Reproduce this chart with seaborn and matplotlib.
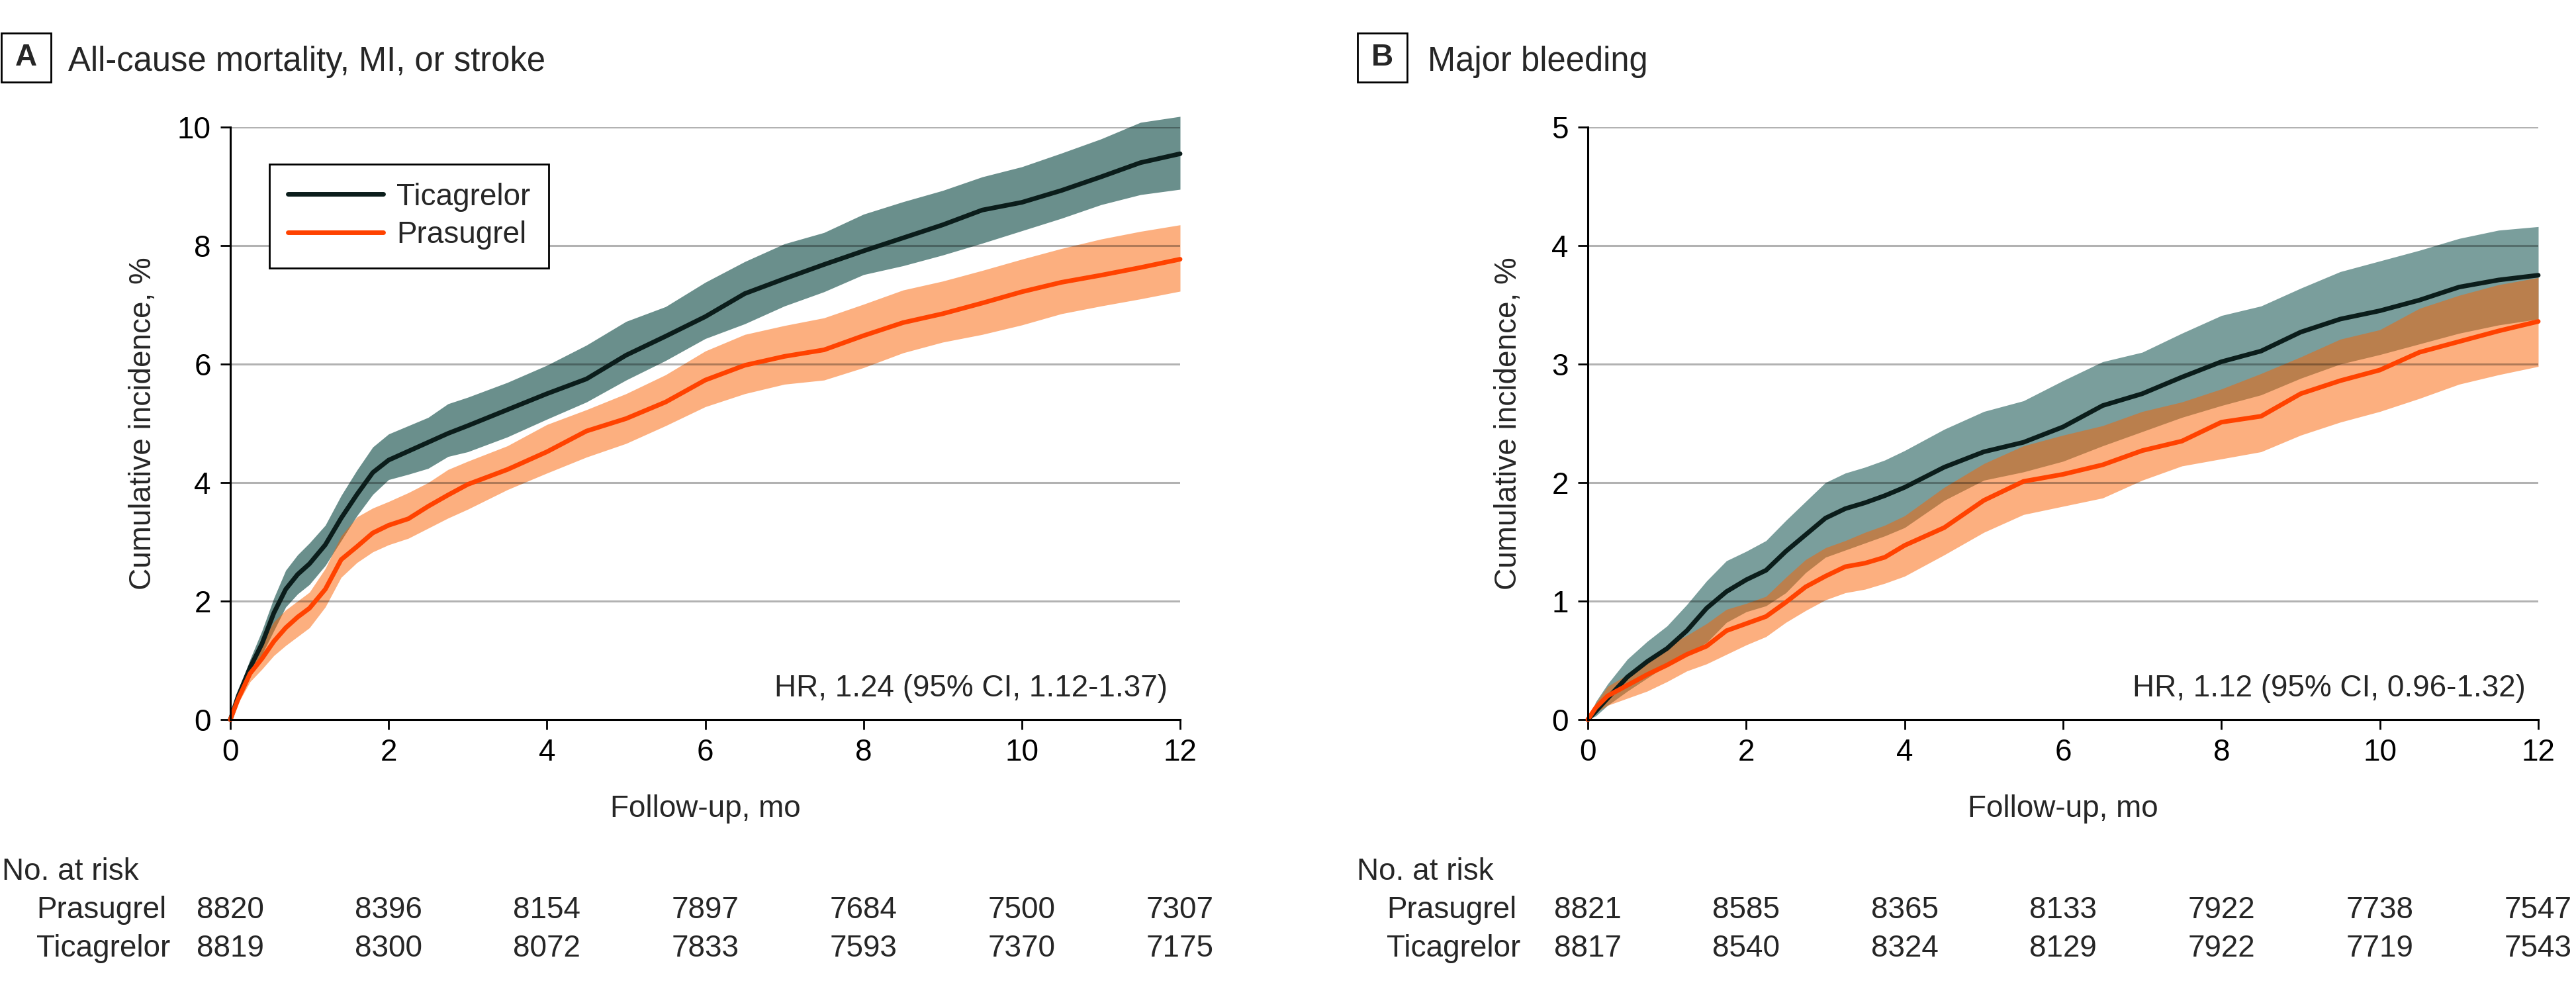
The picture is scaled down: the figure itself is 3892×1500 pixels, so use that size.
import numpy as np
import pandas as pd
import matplotlib
matplotlib.use("Agg")
import matplotlib.pyplot as plt
import matplotlib.transforms as mtransforms
from matplotlib.patches import Rectangle
from matplotlib.lines import Line2D
import seaborn as sns

# ---------------- data ----------------
# Panel A: All-cause mortality, MI, or stroke
t_a = [0, 0.1, 0.25, 0.4, 0.55, 0.7, 0.85, 1.0, 1.2, 1.4, 1.6, 1.8, 2.0, 2.25, 2.5, 2.75,
       3.0, 3.5, 4.0, 4.5, 5.0, 5.5, 6.0, 6.5, 7.0, 7.5, 8.0, 8.5, 9.0, 9.5, 10.0, 10.5,
       11.0, 11.5, 12.0]
tica_a = [0, 0.40, 0.88, 1.28, 1.80, 2.20, 2.45, 2.63, 2.95, 3.40, 3.80, 4.17, 4.38, 4.53,
          4.68, 4.83, 4.96, 5.23, 5.50, 5.75, 6.15, 6.47, 6.80, 7.19, 7.44, 7.68, 7.91, 8.13,
          8.35, 8.60, 8.73, 8.93, 9.16, 9.40, 9.55]
tica_a_hi = [0, 0.47, 1.02, 1.50, 2.05, 2.52, 2.78, 2.98, 3.28, 3.78, 4.21, 4.60, 4.82, 4.96,
             5.10, 5.33, 5.44, 5.69, 5.98, 6.32, 6.72, 6.97, 7.38, 7.73, 8.03, 8.22, 8.53,
             8.74, 8.93, 9.16, 9.33, 9.56, 9.80, 10.08, 10.18]
tica_a_lo = [0, 0.33, 0.77, 1.10, 1.50, 1.90, 2.12, 2.28, 2.60, 3.02, 3.44, 3.80, 4.05, 4.14,
             4.24, 4.44, 4.52, 4.77, 5.07, 5.36, 5.73, 6.06, 6.43, 6.68, 6.98, 7.22, 7.51,
             7.66, 7.84, 8.04, 8.25, 8.46, 8.69, 8.86, 8.95]
pras_a = [0, 0.35, 0.78, 1.03, 1.32, 1.55, 1.73, 1.88, 2.20, 2.70, 2.92, 3.15, 3.28, 3.39,
          3.60, 3.79, 3.97, 4.22, 4.52, 4.87, 5.08, 5.36, 5.73, 5.98, 6.13, 6.24, 6.48, 6.70,
          6.85, 7.03, 7.22, 7.38, 7.50, 7.63, 7.77]
pras_a_hi = [0, 0.40, 0.94, 1.30, 1.65, 1.85, 2.00, 2.15, 2.55, 3.10, 3.42, 3.57, 3.68, 3.83,
             4.00, 4.22, 4.36, 4.62, 4.98, 5.23, 5.50, 5.82, 6.22, 6.50, 6.65, 6.78, 7.01,
             7.25, 7.40, 7.58, 7.77, 7.95, 8.11, 8.24, 8.35]
pras_a_lo = [0, 0.28, 0.64, 0.85, 1.08, 1.25, 1.40, 1.55, 1.90, 2.40, 2.65, 2.83, 2.95, 3.06,
             3.23, 3.40, 3.55, 3.88, 4.16, 4.43, 4.66, 4.96, 5.28, 5.50, 5.66, 5.73, 5.94,
             6.19, 6.37, 6.50, 6.66, 6.85, 6.98, 7.10, 7.23]

# Panel B: Major bleeding
t_b = [0, 0.1, 0.25, 0.5, 0.75, 1.0, 1.25, 1.5, 1.75, 2.0, 2.25, 2.5, 2.75, 3.0, 3.25, 3.5,
       3.75, 4.0, 4.5, 5.0, 5.5, 6.0, 6.5, 7.0, 7.5, 8.0, 8.5, 9.0, 9.5, 10.0, 10.5, 11.0,
       11.5, 12.0]
tica_b = [0, 0.07, 0.18, 0.36, 0.49, 0.60, 0.75, 0.94, 1.08, 1.18, 1.26, 1.42, 1.56, 1.70,
          1.78, 1.83, 1.89, 1.96, 2.13, 2.26, 2.34, 2.47, 2.65, 2.75, 2.89, 3.02, 3.11, 3.27,
          3.38, 3.45, 3.54, 3.65, 3.71, 3.75]
tica_b_hi = [0, 0.15, 0.30, 0.51, 0.66, 0.79, 0.97, 1.17, 1.34, 1.42, 1.51, 1.68, 1.84, 2.00,
             2.08, 2.13, 2.19, 2.27, 2.45, 2.60, 2.69, 2.86, 3.02, 3.10, 3.26, 3.41, 3.49,
             3.64, 3.78, 3.87, 3.96, 4.06, 4.13, 4.16]
tica_b_lo = [0, 0.03, 0.12, 0.24, 0.35, 0.46, 0.55, 0.65, 0.82, 0.91, 0.96, 1.07, 1.24, 1.37,
             1.43, 1.49, 1.55, 1.62, 1.85, 2.02, 2.09, 2.18, 2.31, 2.43, 2.55, 2.65, 2.74,
             2.88, 3.00, 3.08, 3.17, 3.26, 3.33, 3.38]
pras_b = [0, 0.10, 0.20, 0.29, 0.38, 0.46, 0.55, 0.62, 0.75, 0.81, 0.87, 0.99, 1.12, 1.21,
          1.29, 1.32, 1.37, 1.47, 1.62, 1.85, 2.01, 2.07, 2.15, 2.27, 2.35, 2.51, 2.56, 2.75,
          2.86, 2.95, 3.10, 3.19, 3.28, 3.36]
pras_b_hi = [0, 0.14, 0.28, 0.38, 0.51, 0.62, 0.71, 0.81, 0.93, 0.98, 1.04, 1.20, 1.35, 1.45,
             1.51, 1.58, 1.64, 1.72, 1.96, 2.16, 2.31, 2.40, 2.48, 2.60, 2.68, 2.79, 2.92,
             3.06, 3.21, 3.29, 3.47, 3.58, 3.67, 3.73]
pras_b_lo = [0, 0.06, 0.12, 0.18, 0.24, 0.32, 0.41, 0.47, 0.55, 0.63, 0.70, 0.82, 0.92, 1.01,
             1.07, 1.10, 1.15, 1.21, 1.39, 1.58, 1.73, 1.80, 1.87, 2.02, 2.14, 2.20, 2.26,
             2.40, 2.51, 2.60, 2.71, 2.83, 2.91, 2.98]

risk_times = [0, 2, 4, 6, 8, 10, 12]
risk_pras_a = [8820, 8396, 8154, 7897, 7684, 7500, 7307]
risk_tica_a = [8819, 8300, 8072, 7833, 7593, 7370, 7175]
risk_pras_b = [8821, 8585, 8365, 8133, 7922, 7738, 7547]
risk_tica_b = [8817, 8540, 8324, 8129, 7922, 7719, 7543]

titles = ["All-cause mortality, MI, or stroke", "Major bleeding"]
panel_letters = ["A", "B"]
hr_texts = ["HR, 1.24 (95% CI, 1.12-1.37)", "HR, 1.12 (95% CI, 0.96-1.32)"]
group_names = ["Ticagrelor", "Prasugrel"]

# ---------------- style ----------------
sns.set_theme(style="white")
plt.rcParams["font.family"] = ["Liberation Sans", "DejaVu Sans"]
FS = 33
TFS = 36.5

TICA_LINE = "#0b1d1b"
PRAS_LINE = "#ff4200"
TEAL_A = "#6a8f8c"
TEAL_B = "#7a9e9c"
ORANGE_BAND = (0.98, 0.38, 0.0)
ORANGE_ALPHA = 0.5

W, H = 3892, 1500
fig = plt.figure(figsize=(W / 100, H / 100), dpi=100)


def fxp(px):
    return px / W


def fyp(py):
    return 1 - py / H


ax_top, ax_bot = 192, 1087
axA = fig.add_axes([fxp(348), fyp(ax_bot), fxp(1783 - 348), (ax_bot - ax_top) / H])
axB = fig.add_axes([fxp(2399), fyp(ax_bot), fxp(3835 - 2399), (ax_bot - ax_top) / H])

panels = [
    dict(ax=axA, t=t_a, tica=tica_a, tica_hi=tica_a_hi, tica_lo=tica_a_lo,
         pras=pras_a, pras_hi=pras_a_hi, pras_lo=pras_a_lo, ymax=10, ystep=2,
         teal=TEAL_A, hr_y=0.525, risk_p=risk_pras_a, risk_t=risk_tica_a,
         box_x=2, title_x=103, risk_lab_x=3, row_lab_x=55, ylab_x=-0.092),
    dict(ax=axB, t=t_b, tica=tica_b, tica_hi=tica_b_hi, tica_lo=tica_b_lo,
         pras=pras_b, pras_hi=pras_b_hi, pras_lo=pras_b_lo, ymax=5, ystep=1,
         teal=TEAL_B, hr_y=0.26, risk_p=risk_pras_b, risk_t=risk_tica_b,
         box_x=2051, title_x=2157, risk_lab_x=2050, row_lab_x=2095, ylab_x=-0.0836),
]

for i, p in enumerate(panels):
    ax = p["ax"]
    t = np.array(p["t"])
    # confidence bands
    ax.fill_between(t, p["tica_lo"], p["tica_hi"], color=p["teal"], lw=0,
                    zorder=1, clip_on=False)
    ax.fill_between(t, p["pras_lo"], p["pras_hi"], color=ORANGE_BAND,
                    alpha=ORANGE_ALPHA, lw=0, zorder=1.2, clip_on=False)
    # lines
    df_t = pd.DataFrame({"t": t, "v": p["tica"]})
    df_p = pd.DataFrame({"t": t, "v": p["pras"]})
    sns.lineplot(data=df_t, x="t", y="v", ax=ax, color=TICA_LINE, lw=5,
                 estimator=None, sort=False, zorder=3)
    sns.lineplot(data=df_p, x="t", y="v", ax=ax, color=PRAS_LINE, lw=5,
                 estimator=None, sort=False, zorder=3.1)
    for ln in ax.lines:
        ln.set_clip_on(False)
        ln.set_solid_joinstyle("miter")

    # gridlines
    yt = np.arange(0, p["ymax"] + 0.01, p["ystep"])
    for y in yt[1:]:
        ax.axhline(y, color="black", alpha=0.3, lw=2.2, zorder=2.5)

    ax.set_xlim(0, 12)
    ax.set_ylim(0, p["ymax"])
    ax.set_xticks(risk_times)
    ax.set_xticklabels([str(x) for x in risk_times])
    ax.set_yticks(yt)
    ax.set_yticklabels([str(int(y)) for y in yt])
    ax.tick_params(axis="both", which="major", direction="out", length=11,
                   width=2.0, color="black", labelsize=FS, labelcolor="black",
                   left=True, bottom=True)
    ax.tick_params(axis="y", pad=10)
    ax.tick_params(axis="x", pad=9)
    for side in ["top", "right"]:
        ax.spines[side].set_visible(False)
    for side in ["left", "bottom"]:
        ax.spines[side].set_linewidth(2.2)
        ax.spines[side].set_color("black")
        ax.spines[side].set_zorder(4)
    ax.grid(False)
    ax.set_facecolor("white")

    ax.set_xlabel("Follow-up, mo", fontsize=FS, va="center")
    ax.xaxis.set_label_coords(0.5, (ax_bot - 1222) / (ax_bot - ax_top))
    ax.set_ylabel("Cumulative incidence, %", fontsize=FS, va="center")
    ax.yaxis.set_label_coords(p["ylab_x"], 0.5)

    ax.text(11.84, p["hr_y"], hr_texts[i], ha="right", va="center", fontsize=FS,
            zorder=5)

    # panel label box and title
    bx = p["box_x"]
    fig.patches.append(Rectangle((fxp(bx), fyp(124)), fxp(75), 74 / H, fill=False,
                                 lw=2.0, edgecolor="black", transform=fig.transFigure))
    fig.text(fxp(bx + 37.5), fyp(87), panel_letters[i], ha="center", va="center",
             fontsize=FS, fontweight="bold")
    fig.text(fxp(p["title_x"]), fyp(107), titles[i], ha="left", va="baseline",
             fontsize=TFS)

    # number at risk table
    trans = mtransforms.blended_transform_factory(ax.transData, fig.transFigure)
    fig.text(fxp(p["risk_lab_x"]), fyp(1317), "No. at risk", ha="left", va="center",
             fontsize=FS)
    fig.text(fxp(p["row_lab_x"]), fyp(1375), "Prasugrel", ha="left", va="center",
             fontsize=FS)
    fig.text(fxp(p["row_lab_x"]), fyp(1433), "Ticagrelor", ha="left", va="center",
             fontsize=FS)
    for x, n1, n2 in zip(risk_times, p["risk_p"], p["risk_t"]):
        ax.text(x, fyp(1375), str(n1), transform=trans, ha="center", va="center",
                fontsize=FS, clip_on=False)
        ax.text(x, fyp(1433), str(n2), transform=trans, ha="center", va="center",
                fontsize=FS, clip_on=False)

# legend in panel A
handles = [Line2D([0], [0], color=TICA_LINE, lw=5),
           Line2D([0], [0], color=PRAS_LINE, lw=5)]
leg = axA.legend(handles, group_names, loc="upper left",
                 bbox_to_anchor=((407 - 348) / 1435, (ax_bot - 248) / (ax_bot - ax_top)),
                 borderaxespad=0, fontsize=FS, frameon=True, fancybox=False,
                 edgecolor="black", framealpha=1, handlelength=3.15,
                 handletextpad=0.45, borderpad=0.6, labelspacing=0.3)
leg.get_frame().set_linewidth(2.0)
leg.set_zorder(6)

fig.savefig("out.png", dpi=100, facecolor="white")
